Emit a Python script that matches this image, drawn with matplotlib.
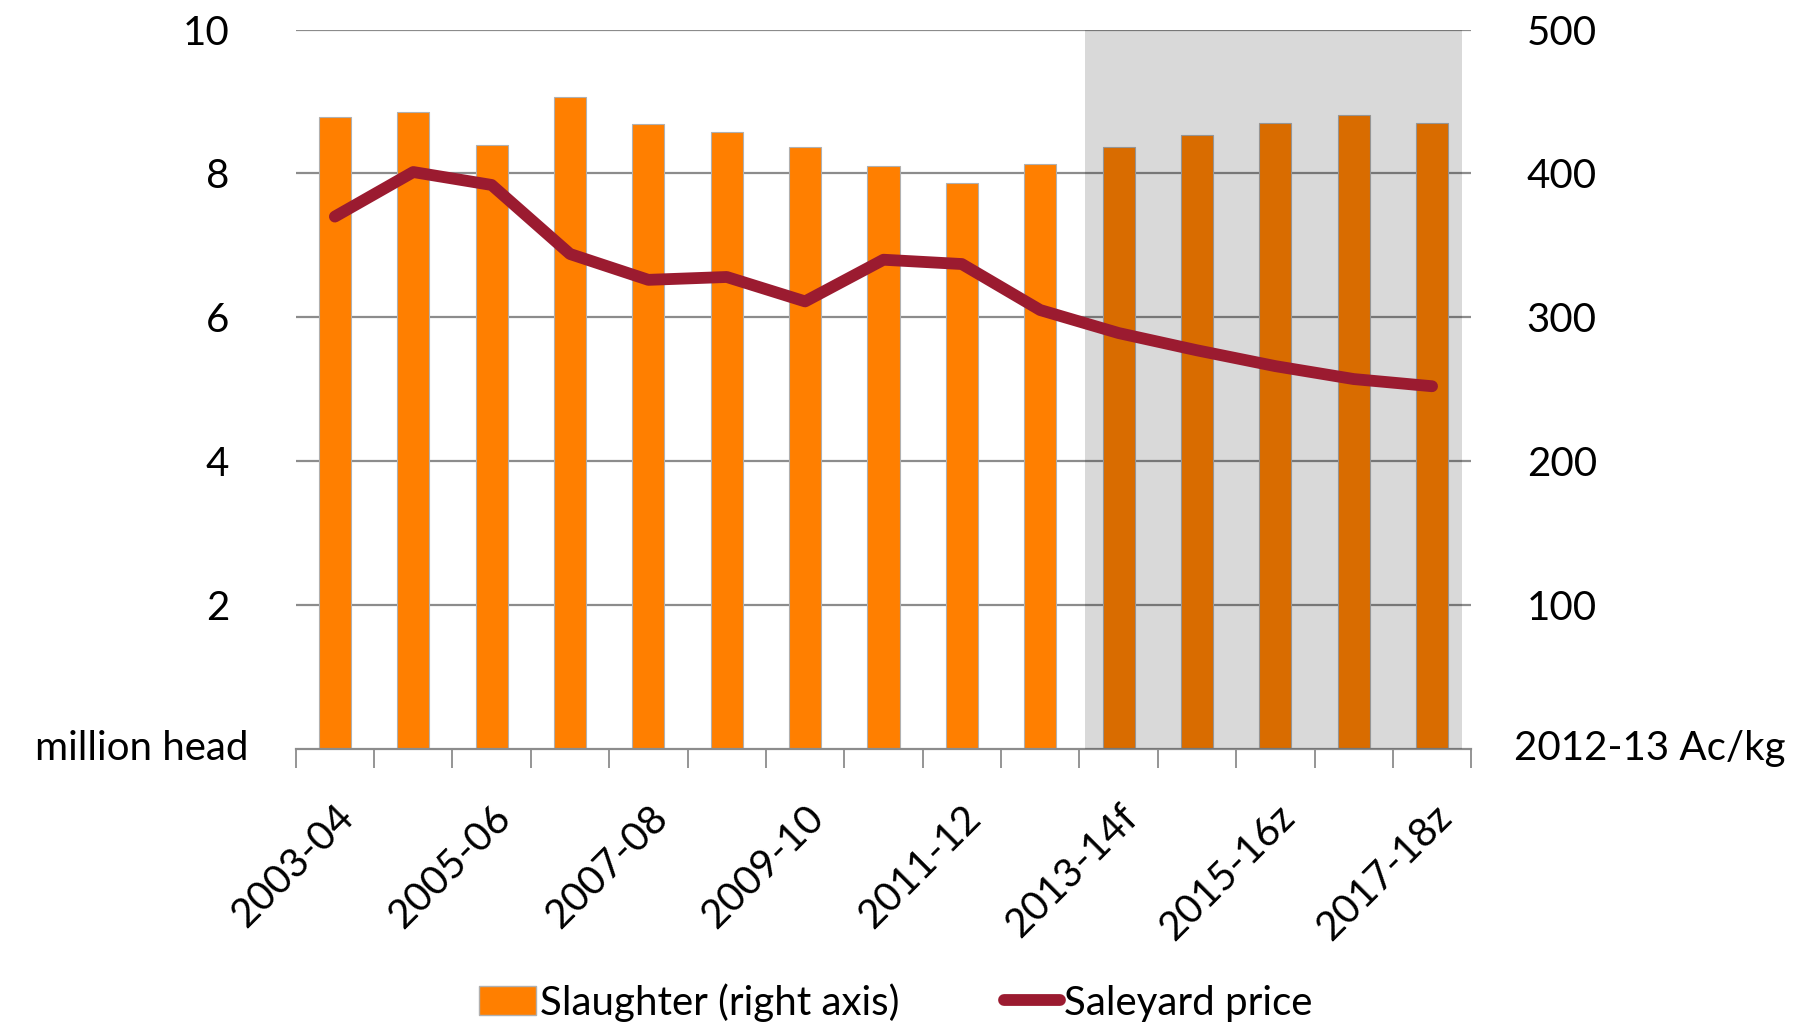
import matplotlib
matplotlib.use('Agg')
import matplotlib.pyplot as plt
from matplotlib.patches import Patch
from matplotlib.lines import Line2D
import numpy as np

plt.rcParams['font.family'] = ['Lato', 'DejaVu Sans']

# ---------------------------------------------------------------------------
# Data
# ---------------------------------------------------------------------------
years = ['2003-04', '2004-05', '2005-06', '2006-07', '2007-08', '2008-09',
         '2009-10', '2010-11', '2011-12', '2012-13', '2013-14f', '2014-15z',
         '2015-16z', '2016-17z', '2017-18z']
slaughter = [8.78, 8.86, 8.40, 9.07, 8.69, 8.58, 8.37, 8.10, 7.87, 8.13,
             8.37, 8.54, 8.70, 8.82, 8.70]          # million head
saleyard_price = [370, 401, 392, 344, 326, 328, 311, 340, 337, 305,
                  289, 277, 266, 257, 252]          # 2012-13 Ac/kg
left_ticks = [2, 4, 6, 8, 10]
right_ticks = [100, 200, 300, 400, 500]
forecast_span = (9.57, 14.38)

ORANGE = '#FF7F00'
LINE_RED = '#9B1B30'
GRID = '#8C8C8C'
FS = 29

fig = plt.figure(figsize=(18.03, 10.24), dpi=100)
ax = fig.add_axes([0.164, 0.269, 0.652, 0.702])
x = np.arange(len(years))

ax.bar(x, slaughter, width=0.41, color=ORANGE, edgecolor='#B0B0B0',
       linewidth=0.8, zorder=2)
# forecast shading sits over the bars, darkening them
ax.axvspan(*forecast_span, color='black', alpha=0.15, lw=0, zorder=3)

ax.set_xlim(-0.5, len(years) - 0.5)
ax.set_ylim(0, 10)
ax.set_yticks(left_ticks)
ax.set_yticklabels([str(t) for t in left_ticks])
ax.tick_params(axis='y', length=0, labelsize=FS, pad=48)
ax.yaxis.grid(True, color=GRID, linewidth=1.6, zorder=1)
ax.set_axisbelow(True)

ax.set_xticks(x[::2])
ax.set_xticklabels(years[::2], rotation=45, ha='right',
                   rotation_mode='anchor', fontsize=FS)
ax.tick_params(axis='x', which='major', length=0, pad=36)
ax.set_xticks(np.arange(-0.5, len(years)), minor=True)
ax.tick_params(axis='x', which='minor', length=14, width=1.3, color=GRID,
               direction='out')

for s in ['left', 'right', 'top']:
    ax.spines[s].set_visible(False)
ax.spines['bottom'].set_color(GRID)
ax.spines['bottom'].set_linewidth(1.6)

ax2 = ax.twinx()
ax2.plot(x, saleyard_price, color=LINE_RED, linewidth=8.5,
         solid_capstyle='round', solid_joinstyle='round', zorder=5)
ax2.set_ylim(0, 500)
ax2.set_yticks(right_ticks)
ax2.set_yticklabels([str(t) for t in right_ticks])
ax2.tick_params(axis='y', length=0, labelsize=FS, pad=40)
for s in ['left', 'right', 'top', 'bottom']:
    ax2.spines[s].set_visible(False)

# axis unit labels at the zero line
ax.text(-0.04, 0, 'million head', transform=ax.get_yaxis_transform(),
        ha='right', va='center', fontsize=FS)
ax2.text(1.036, 0, '2012-13 Ac/kg', transform=ax2.get_yaxis_transform(),
         ha='left', va='center', fontsize=FS)

handles = [Patch(facecolor=ORANGE, edgecolor='#B0B0B0'),
           Line2D([0], [0], color=LINE_RED, linewidth=8.5,
                  solid_capstyle='round')]
fig.legend(handles, ['Slaughter (right axis)', 'Saleyard price'],
           loc='lower center', bbox_to_anchor=(0.497, -0.033), ncol=2,
           frameon=False, fontsize=FS, handlelength=1.4, handletextpad=0.1,
           columnspacing=2.6)

fig.savefig('out.png', dpi=100)
